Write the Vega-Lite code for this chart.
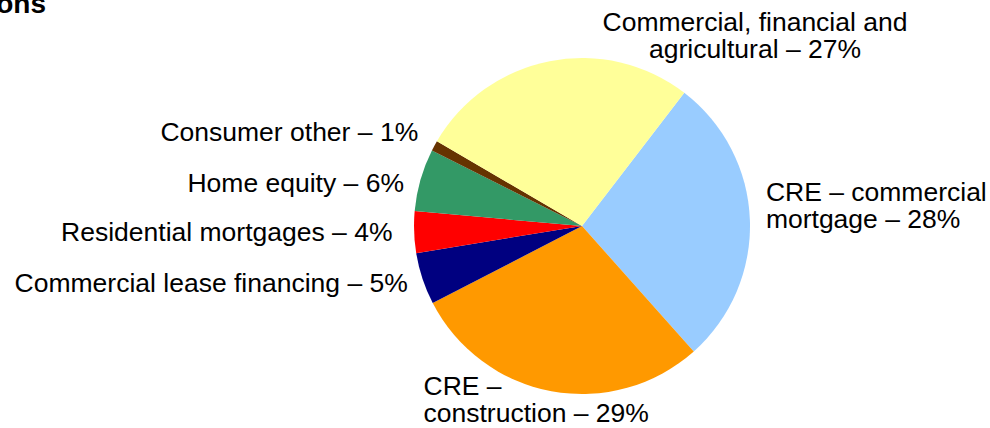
{
  "$schema": "https://vega.github.io/schema/vega-lite/v6.json",
  "width": 816,
  "height": 404,
  "autosize": {"type": "none"},
  "padding": {"left": 174, "top": 24, "right": 0, "bottom": 0},
  "background": "white",
  "config": {"view": {"stroke": null}, "font": "Liberation Sans"},
  "title": {
    "text": "Loan Compositions",
    "anchor": "start",
    "align": "right",
    "frame": "group",
    "dx": -128,
    "dy": 31,
    "offset": 0,
    "fontSize": 28,
    "fontWeight": "bold",
    "font": "Liberation Sans",
    "color": "black",
    "baseline": "alphabetic"
  },
  "data": {
    "values": [
      {"segment": "CRE – commercial mortgage", "pct": 28, "ord": 1, "label": "CRE – commercial\nmortgage – 28%"},
      {"segment": "CRE – construction", "pct": 29, "ord": 2, "label": "CRE –\nconstruction – 29%"},
      {"segment": "Commercial lease financing", "pct": 5, "ord": 3, "label": "Commercial lease financing – 5%"},
      {"segment": "Residential mortgages", "pct": 4, "ord": 4, "label": "Residential mortgages – 4%"},
      {"segment": "Home equity", "pct": 6, "ord": 5, "label": "Home equity – 6%"},
      {"segment": "Consumer other", "pct": 1, "ord": 6, "label": "Consumer other – 1%"},
      {"segment": "Commercial, financial and agricultural", "pct": 27, "ord": 7, "label": "Commercial, financial and\nagricultural – 27%"}
    ]
  },
  "encoding": {
    "theta": {"field": "pct", "type": "quantitative", "stack": true, "scale": {"range": [0.6545, 6.9377]}},
    "order": {"field": "ord", "type": "quantitative"},
    "detail": {"field": "segment", "type": "nominal"}
  },
  "layer": [
    {
      "mark": {"type": "arc", "outerRadius": 168},
      "encoding": {
        "color": {
          "field": "segment",
          "type": "nominal",
          "legend": null,
          "scale": {
            "domain": ["CRE – commercial mortgage", "CRE – construction", "Commercial lease financing", "Residential mortgages", "Home equity", "Consumer other", "Commercial, financial and agricultural"],
            "range": ["#99CCFF", "#FF9900", "#000080", "#FF0000", "#339966", "#663300", "#FFFF99"]
          }
        }
      }
    },
    {
      "mark": {"type": "text", "radius": 175, "align": "left", "baseline": "alphabetic", "dx": 9, "dy": -18.6, "fontSize": 26.5, "lineHeight": 27, "lineBreak": "\n", "font": "Liberation Sans", "fill": "black"},
      "encoding": {"text": {"condition": {"test": "datum.ord === 1", "field": "label"}, "value": ""}}
    },
    {
      "mark": {"type": "text", "radius": 175, "align": "left", "baseline": "alphabetic", "dx": -126.6, "dy": -3.1, "fontSize": 26.5, "lineHeight": 27, "lineBreak": "\n", "font": "Liberation Sans", "fill": "black"},
      "encoding": {"text": {"condition": {"test": "datum.ord === 2", "field": "label"}, "value": ""}}
    },
    {
      "mark": {"type": "text", "radius": 175, "align": "right", "baseline": "alphabetic", "dx": -8, "dy": 11, "fontSize": 26.5, "font": "Liberation Sans", "fill": "black"},
      "encoding": {"text": {"condition": {"test": "datum.ord === 3", "field": "label"}, "value": ""}}
    },
    {
      "mark": {"type": "text", "radius": 175, "align": "right", "baseline": "alphabetic", "dx": -14.6, "dy": 8.6, "fontSize": 26.5, "font": "Liberation Sans", "fill": "black"},
      "encoding": {"text": {"condition": {"test": "datum.ord === 4", "field": "label"}, "value": ""}}
    },
    {
      "mark": {"type": "text", "radius": 175, "align": "right", "baseline": "alphabetic", "dx": -9.7, "dy": 14, "fontSize": 26.5, "font": "Liberation Sans", "fill": "black"},
      "encoding": {"text": {"condition": {"test": "datum.ord === 5", "field": "label"}, "value": ""}}
    },
    {
      "mark": {"type": "text", "radius": 175, "align": "right", "baseline": "alphabetic", "dx": -10, "dy": -1, "fontSize": 26.5, "font": "Liberation Sans", "fill": "black"},
      "encoding": {"text": {"condition": {"test": "datum.ord === 6", "field": "label"}, "value": ""}}
    },
    {
      "mark": {"type": "text", "radius": 175, "align": "center", "baseline": "alphabetic", "dx": 206.7, "dy": -23.3, "fontSize": 26.5, "lineHeight": 27, "lineBreak": "\n", "font": "Liberation Sans", "fill": "black"},
      "encoding": {"text": {"condition": {"test": "datum.ord === 7", "field": "label"}, "value": ""}}
    }
  ]
}
